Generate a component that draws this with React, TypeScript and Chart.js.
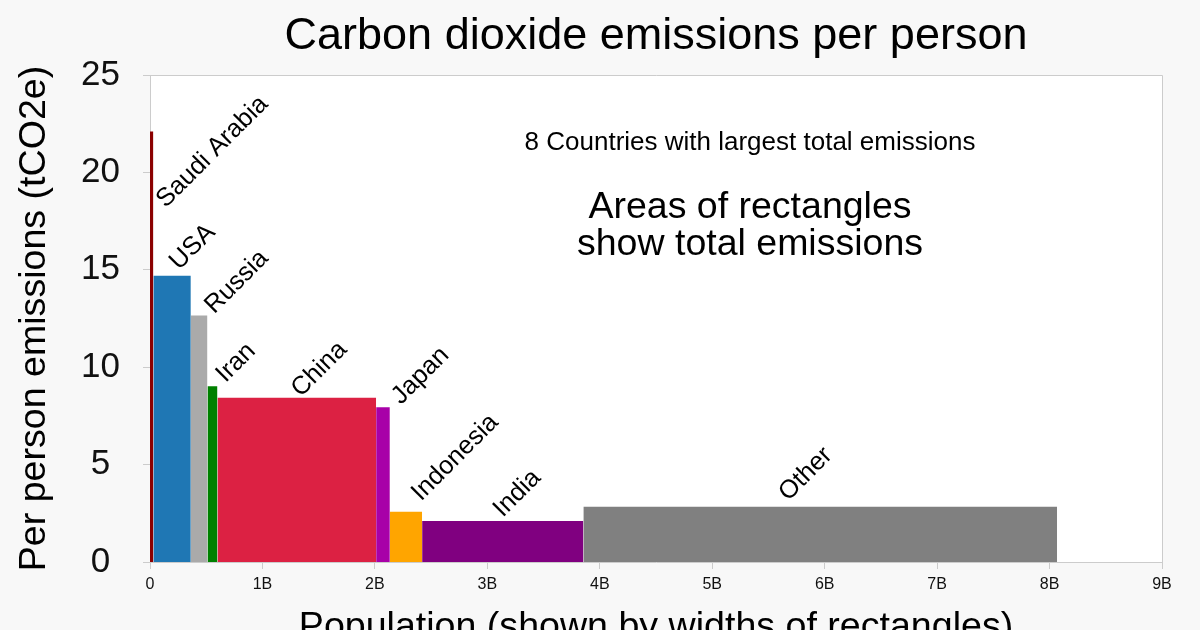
import React, { useEffect, useRef } from 'react';
import { Chart, registerables } from 'chart.js';

Chart.register(...registerables);

// ---- Data ----
const countries = ['Saudi Arabia', 'USA', 'Russia', 'Iran', 'China', 'Japan', 'Indonesia', 'India', 'Other'];
const populationBillions = [0.03, 0.333, 0.148, 0.089, 1.411, 0.122, 0.287, 1.434, 4.213];
const perPersonTonnes = [22.1, 14.7, 12.65, 9.02, 8.43, 7.94, 2.58, 2.1, 2.84];
const barColors = ['#8b0000', '#1f77b4', '#aaaaaa', '#008000', '#dc2143', '#a800a8', '#ffa500', '#800080', '#808080'];

const xTickValues = [0, 1, 2, 3, 4, 5, 6, 7, 8, 9];
const xTickLabels = ['0', '1B', '2B', '3B', '4B', '5B', '6B', '7B', '8B', '9B'];
const yTickValues = [0, 5, 10, 15, 20, 25];
const yTickLabels = ['0', '5', '10', '15', '20', '25'];

const titleText = 'Carbon dioxide emissions per person';
const noteText = '8 Countries with largest total emissions';
const annotationLines = ['Areas of rectangles', 'show total emissions'];
const xAxisTitle = 'Population (shown by widths of rectangles)';
const yAxisTitle = 'Per person emissions (tCO2e)';

// label placement nudges in px relative to (bar centre, bar top)
const labelNudge: Record<string, [number, number]> = {
  'Saudi Arabia': [14, 77],
  USA: [7, -5],
  Russia: [15, -1],
  Iran: [13, -3],
  China: [4, 0],
  Japan: [18, -2],
  Indonesia: [15, -10],
  India: [0, -3],
  Other: [-32, -5],
};

const FONT = '"Liberation Sans", Arial, sans-serif';
const AXIS_COLOR = '#cccccc';

export default function App() {
  const canvasRef = useRef<HTMLCanvasElement | null>(null);

  useEffect(() => {
    if (!canvasRef.current) return;

    const starts: number[] = [];
    let acc = 0;
    for (const p of populationBillions) {
      starts.push(acc);
      acc += p;
    }

    const datasets = countries.map((c, i) => ({
      label: c,
      data: [
        { x: starts[i], y: perPersonTonnes[i] },
        { x: starts[i] + populationBillions[i], y: perPersonTonnes[i] },
      ],
      showLine: true,
      fill: 'origin',
      backgroundColor: barColors[i],
      borderColor: 'rgba(0,0,0,0)',
      borderWidth: 0,
      pointRadius: 0,
      pointHoverRadius: 0,
      tension: 0,
    }));

    const decor = {
      id: 'decor',
      beforeDraw(chart: any) {
        const { ctx, chartArea: a } = chart;
        ctx.save();
        ctx.fillStyle = '#f8f8f8';
        ctx.fillRect(0, 0, chart.width, chart.height);
        ctx.fillStyle = '#ffffff';
        ctx.fillRect(a.left, a.top, a.right - a.left, a.bottom - a.top);
        ctx.restore();
      },
      afterDatasetsDraw(chart: any) {
        const { ctx } = chart;
        const xs = chart.scales.x;
        const ys = chart.scales.y;
        ctx.save();
        ctx.font = `25.5px ${FONT}`;
        ctx.fillStyle = '#000';
        ctx.textAlign = 'left';
        ctx.textBaseline = 'alphabetic';
        countries.forEach((c, i) => {
          const cx = xs.getPixelForValue(starts[i] + populationBillions[i] / 2);
          const top = ys.getPixelForValue(perPersonTonnes[i]);
          const [dx, dy] = labelNudge[c] || [0, -6];
          ctx.save();
          ctx.translate(cx + dx, top + dy);
          ctx.rotate(-Math.PI / 4);
          ctx.fillText(c, 0, 0);
          ctx.restore();
        });
        ctx.restore();
      },
      afterDraw(chart: any) {
        const { ctx, chartArea: a } = chart;
        ctx.save();
        // top & right frame
        ctx.strokeStyle = AXIS_COLOR;
        ctx.lineWidth = 1;
        const yt = Math.round(a.top) + 0.5;
        const xr = Math.round(a.right) + 0.5;
        ctx.beginPath();
        ctx.moveTo(a.left, yt);
        ctx.lineTo(xr, yt);
        ctx.lineTo(xr, a.bottom);
        ctx.stroke();

        ctx.fillStyle = '#000';
        ctx.textAlign = 'center';
        ctx.textBaseline = 'alphabetic';
        const cxPlot = (a.left + a.right) / 2;

        ctx.font = `45px ${FONT}`;
        ctx.fillText(titleText, cxPlot, 49);

        ctx.font = `26px ${FONT}`;
        ctx.fillText(noteText, 750, 150);

        ctx.font = `37.5px ${FONT}`;
        ctx.fillText(annotationLines[0], 750, 218);
        ctx.fillText(annotationLines[1], 750, 255);

        ctx.font = `37.6px ${FONT}`;
        ctx.fillText(xAxisTitle, cxPlot, 638);

        ctx.save();
        ctx.translate(45, (a.top + a.bottom) / 2);
        ctx.rotate(-Math.PI / 2);
        ctx.fillText(yAxisTitle, 0, 0);
        ctx.restore();

        ctx.restore();
      },
    };

    const chart = new Chart(canvasRef.current, {
      type: 'scatter',
      data: { datasets } as any,
      options: {
        animation: false,
        responsive: true,
        maintainAspectRatio: false,
        layout: { padding: { top: 75, right: 38, left: 0, bottom: 0 } },
        plugins: {
          legend: { display: false },
          tooltip: { enabled: false },
          title: { display: false },
        },
        events: [],
        scales: {
          x: {
            type: 'linear',
            min: 0,
            max: 9,
            afterBuildTicks(scale: any) {
              scale.ticks = xTickValues.map((v) => ({ value: v }));
            },
            afterFit(scale: any) {
              scale.height = 68;
            },
            ticks: {
              callback: (_v: any, i: number) => xTickLabels[i],
              font: { family: FONT, size: 16 },
              color: '#111',
              padding: 6,
              maxRotation: 0,
              autoSkip: false,
            },
            grid: {
              display: true,
              drawOnChartArea: false,
              drawTicks: true,
              tickLength: 7,
              color: AXIS_COLOR,
            },
            border: { display: true, color: AXIS_COLOR },
          },
          y: {
            type: 'linear',
            min: 0,
            max: 25,
            afterBuildTicks(scale: any) {
              scale.ticks = yTickValues.map((v) => ({ value: v }));
            },
            afterFit(scale: any) {
              scale.width = 150;
            },
            ticks: {
              callback: (_v: any, i: number) => yTickLabels[i],
              font: { family: FONT, size: 35 },
              color: '#111',
              padding: 23,
              crossAlign: 'center',
            },
            grid: {
              display: true,
              drawOnChartArea: false,
              drawTicks: true,
              tickLength: 7,
              color: AXIS_COLOR,
            },
            border: { display: true, color: AXIS_COLOR },
          },
        },
      } as any,
      plugins: [decor],
    });

    return () => chart.destroy();
  }, []);

  return (
    <div style={{ position: 'fixed', left: 0, top: 0, width: 1200, height: 630, background: '#f8f8f8' }}>
      <canvas ref={canvasRef} />
    </div>
  );
}
